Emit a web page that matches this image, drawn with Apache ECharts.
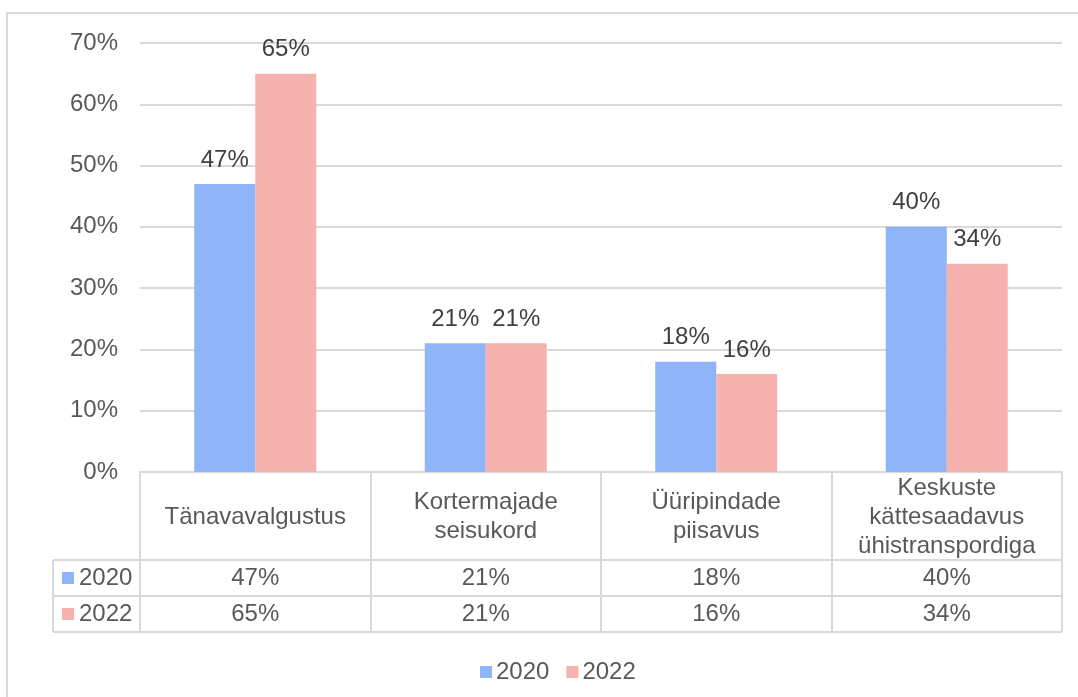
<!DOCTYPE html>
<html>
<head>
<meta charset="utf-8">
<script src="https://cdn.jsdelivr.net/npm/echarts@6/dist/echarts.min.js"></script>
<style>
  html, body { margin: 0; padding: 0; background: #fff; }
  #main { width: 1078px; height: 697px; }
</style>
</head>
<body>
<div id="main"></div>
<script>
// data
var categories = ['Tänavavalgustus', 'Kortermajade\nseisukord', 'Üüripindade\npiisavus', 'Keskuste\nkättesaadavus\nühistranspordiga']
var years = ['2020', '2022']
var values2020 = [0.47, 0.21, 0.18, 0.40]
var values2022 = [0.65, 0.21, 0.16, 0.34]
var yTicks = [0, 0.1, 0.2, 0.3, 0.4, 0.5, 0.6, 0.7]

var colors = ['#8fb4f8', '#f6b2ae']
var font = '"Liberation Sans", Arial, sans-serif'
var fs = 24
var textGray = '#595959'
var lineGray = '#d9d9d9'

function pct (v) {
  return Math.round(v * 100) + '%'
}

var myChart = echarts.init(document.getElementById('main'))

// value rows of the data table drawn as extra category axes under the plot
function valueAxis (vals, margin) {
  return {
    type: 'category',
    data: categories,
    position: 'bottom',
    gridIndex: 0,
    axisLine: { show: false },
    axisTick: { show: false },
    axisLabel: {
      interval: 0,
      margin: margin,
      verticalAlign: 'middle',
      fontFamily: font,
      fontSize: fs,
      color: textGray,
      formatter: function (v, i) { return pct(vals[i]) }
    }
  }
}

var option = {
  animation: false,
  textStyle: { fontFamily: font },
  grid: { left: 140, right: 16, top: 43, bottom: 225 },
  legend: {
    data: years,
    left: 475,
    top: 655,
    icon: 'rect',
    itemWidth: 12,
    itemHeight: 12,
    itemGap: 17,
    textStyle: { fontFamily: font, fontSize: fs, color: textGray, padding: [0, 0, 0, -1] }
  },
  xAxis: [
    {
      type: 'category',
      data: categories,
      axisLine: { lineStyle: { color: lineGray, width: 2 } },
      axisTick: { show: true, interval: 0, inside: false, length: 160, lineStyle: { color: lineGray, width: 2 } },
      axisLabel: {
        interval: 0,
        margin: 45,
        verticalAlign: 'middle',
        lineHeight: 29,
        fontFamily: font,
        fontSize: fs,
        color: textGray
      }
    },
    valueAxis(values2020, 106),
    valueAxis(values2022, 142)
  ],
  yAxis: {
    type: 'value',
    min: 0,
    max: yTicks[yTicks.length - 1],
    interval: 0.1,
    axisLine: { show: false },
    axisTick: { show: false },
    splitLine: { lineStyle: { color: lineGray, width: 2 } },
    axisLabel: {
      margin: 22,
      fontFamily: font,
      fontSize: fs,
      color: textGray,
      formatter: function (v) { return pct(v) }
    }
  },
  series: [
    {
      name: years[0],
      type: 'bar',
      data: values2020,
      barWidth: 61,
      barGap: '0%',
      itemStyle: { color: colors[0] },
      label: { show: true, position: 'top', distance: 12, fontFamily: font, fontSize: fs, color: '#404040', formatter: function (p) { return pct(p.value) } }
    },
    {
      name: years[1],
      type: 'bar',
      data: values2022,
      barWidth: 61,
      barGap: '0%',
      itemStyle: { color: colors[1] },
      label: { show: true, position: 'top', distance: 12, fontFamily: font, fontSize: fs, color: '#404040', formatter: function (p) { return pct(p.value) } }
    }
  ]
}

myChart.setOption(option)

// table frame lines and row headers
function drawTable () {
  var x0 = myChart.convertToPixel({ xAxisIndex: 0 }, categories[0])
  var x1 = myChart.convertToPixel({ xAxisIndex: 0 }, categories[1])
  var half = (x1 - x0) / 2
  var right = myChart.convertToPixel({ xAxisIndex: 0 }, categories[categories.length - 1]) + half
  var yBase = myChart.convertToPixel({ yAxisIndex: 0 }, 0)
  var rowTop = yBase + 88
  var rowH = 36
  var labelLeft = 53
  var els = []
  els.push({
    type: 'rect', z: -10,
    shape: { x: 7, y: 13, width: 1200, height: 900 },
    style: { fill: null, stroke: lineGray, lineWidth: 2 }
  })
  for (var r = 0; r <= years.length; r++) {
    var y = rowTop + r * rowH
    els.push({ type: 'line', shape: { x1: labelLeft, y1: y, x2: right, y2: y }, style: { stroke: lineGray, lineWidth: 2 } })
  }
  els.push({ type: 'line', shape: { x1: labelLeft, y1: rowTop, x2: labelLeft, y2: rowTop + years.length * rowH }, style: { stroke: lineGray, lineWidth: 2 } })
  years.forEach(function (yr, i) {
    var cy = rowTop + i * rowH + rowH / 2
    els.push({ type: 'rect', shape: { x: 62, y: cy - 6, width: 12, height: 12 }, style: { fill: colors[i] } })
    els.push({ type: 'text', x: 79, y: cy, style: { text: yr, font: fs + 'px ' + font, fill: textGray, textVerticalAlign: 'middle' } })
  })
  myChart.setOption({ graphic: els })
}
drawTable()

window.onresize = function () {
  myChart.resize()
  drawTable()
}
</script>
</body>
</html>
